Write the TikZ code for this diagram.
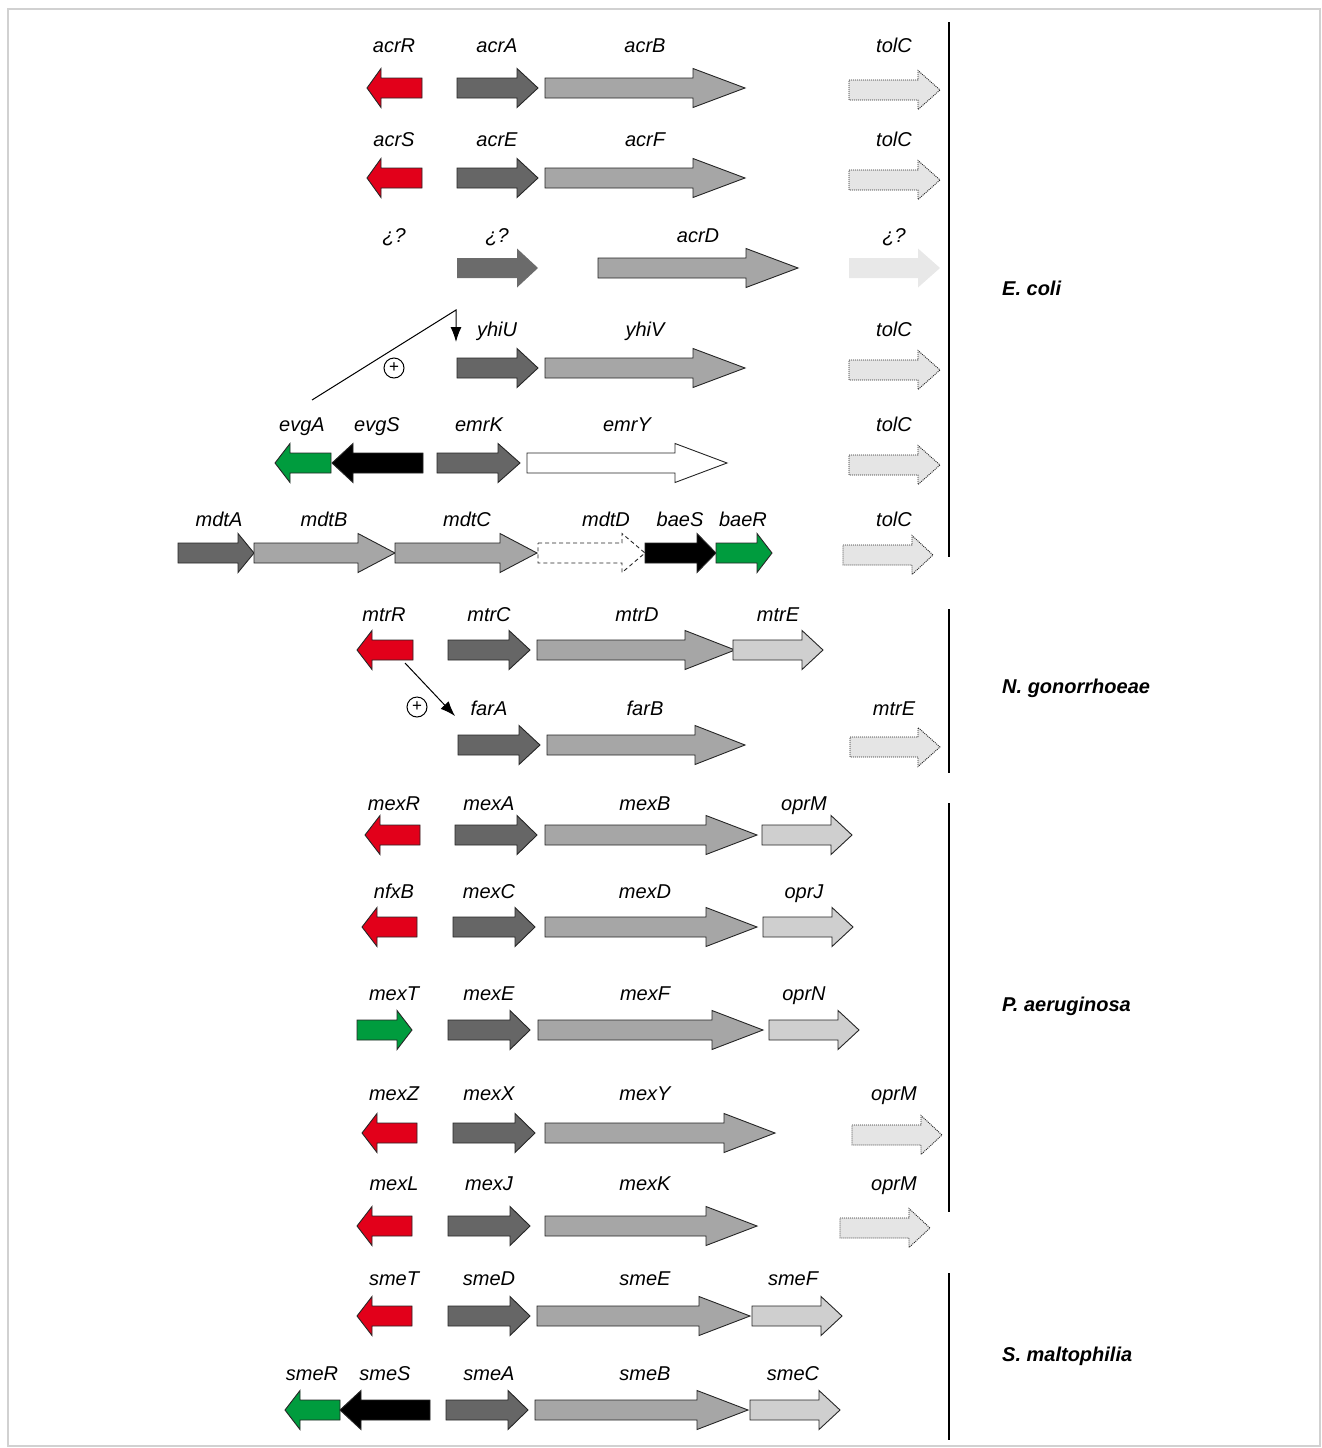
\documentclass[tikz,border=0pt]{standalone}
\usepackage{fontspec}
\setmainfont{Liberation Sans}
\usepackage{tikz}
\usetikzlibrary{arrows.meta}
\definecolor{regred}{RGB}{226,0,26}
\definecolor{reggreen}{RGB}{0,156,62}
\tikzstyle{outl}=[draw=black!85, line width=0.9pt, line join=miter]
\tikzstyle{red}=[outl, fill=regred]
\tikzstyle{grn}=[outl, fill=reggreen]
\tikzstyle{blk}=[outl, fill=black]
\tikzstyle{mfp}=[outl, fill=black!60]
\tikzstyle{rnd}=[outl, fill=black!35]
\tikzstyle{omp}=[outl, fill=black!19]
\tikzstyle{wht}=[outl, fill=white]
\tikzstyle{ompdot}=[draw=black!85, dash pattern=on 1pt off 1pt, line width=0.9pt, fill=black!10]
\tikzstyle{genelabel}=[font=\fontsize{20}{24}\selectfont\itshape, anchor=base, inner sep=0pt]
\tikzstyle{species}=[font=\fontsize{20}{24}\selectfont\bfseries\itshape, anchor=base west, inner sep=0pt]
\tikzstyle{plus}=[circle, draw, line width=1pt, inner sep=0pt, minimum size=20pt, font=\fontsize{17}{17}\selectfont]
\tikzstyle{arrow}=[draw=black, line width=1pt, -{Latex[length=15pt, width=11pt]}]
% gene arrow: style, tail x, head base x, tip x, centre y
\newcommand{\gene}[5]{\path[#1] (#2,#5-10) -- (#3,#5-10) -- (#3,#5-19.5) -- (#4,#5) -- (#3,#5+19.5) -- (#3,#5+10) -- (#2,#5+10) -- cycle;}

\begin{document}
\begin{tikzpicture}[x=1pt, y=-1pt]
	\useasboundingbox (0,0) rectangle (1322,1448);
	\draw[black!18, line width=2pt] (8,9) rectangle (1320,1446);

	% E. coli
	\node[genelabel] (acrR) at (394,52) {acrR};
	\node[genelabel] (acrA) at (497,52) {acrA};
	\node[genelabel] (acrB) at (645,52) {acrB};
	\node[genelabel] (tolC1) at (894,52) {tolC};
	\gene{red}{422}{381}{367}{88}
	\gene{mfp}{457}{517}{538}{88}
	\gene{rnd}{545}{693}{745}{88}
	\gene{ompdot}{849}{918}{940}{90}

	\node[genelabel] (acrS) at (394,146) {acrS};
	\node[genelabel] (acrE) at (497,146) {acrE};
	\node[genelabel] (acrF) at (645,146) {acrF};
	\node[genelabel] (tolC2) at (894,146) {tolC};
	\gene{red}{422}{381}{367}{178}
	\gene{mfp}{457}{517}{538}{178}
	\gene{rnd}{545}{693}{745}{178}
	\gene{ompdot}{849}{918}{940}{180}

	\node[genelabel] (unk1) at (394,242) {¿?};
	\node[genelabel] (unk2) at (497,242) {¿?};
	\node[genelabel] (acrD) at (698,242) {acrD};
	\node[genelabel] (unk3) at (894,242) {¿?};
	\gene{fill=black!58}{457}{517}{538}{268}
	\gene{rnd}{598}{746}{798}{268}
	\gene{fill=black!9}{849}{918}{940}{268}

	\node[genelabel] (yhiU) at (497,336) {yhiU};
	\node[genelabel] (yhiV) at (645,336) {yhiV};
	\node[genelabel] (tolC3) at (894,336) {tolC};
	\gene{mfp}{457}{517}{538}{368}
	\gene{rnd}{545}{693}{745}{368}
	\gene{ompdot}{849}{918}{940}{370}
	\coordinate (evgfrom) at (312,400);
	\coordinate (evgbend) at (456,310);
	\coordinate (evgto) at (456,342);
	\draw[arrow] (evgfrom) -- (evgbend) -- (evgto);
	\node[plus] (plus1) at (394,368) {+};

	\node[genelabel] (evgA) at (302,431) {evgA};
	\node[genelabel] (evgS) at (377,431) {evgS};
	\node[genelabel] (emrK) at (479,431) {emrK};
	\node[genelabel] (emrY) at (627,431) {emrY};
	\node[genelabel] (tolC4) at (894,431) {tolC};
	\gene{grn}{331}{290}{275}{463}
	\gene{blk}{423}{353}{332}{463}
	\gene{mfp}{437}{498}{520}{463}
	\gene{wht}{527}{675}{727}{463}
	\gene{ompdot}{849}{918}{940}{465}

	\node[genelabel] (mdtA) at (219,526) {mdtA};
	\node[genelabel] (mdtB) at (324,526) {mdtB};
	\node[genelabel] (mdtC) at (467,526) {mdtC};
	\node[genelabel] (mdtD) at (606,526) {mdtD};
	\node[genelabel] (baeS) at (680,526) {baeS};
	\node[genelabel] (baeR) at (743,526) {baeR};
	\node[genelabel] (tolC5) at (894,526) {tolC};
	\gene{mfp}{178}{238}{254}{553}
	\gene{rnd}{254}{358}{395}{553}
	\gene{rnd}{395}{500}{537}{553}
	\gene{draw=black!85, line width=0.9pt, dash pattern=on 4pt off 3pt, fill=white}{538}{622}{645}{553}
	\gene{blk}{645}{697}{716}{553}
	\gene{grn}{716}{757}{772}{553}
	\gene{ompdot}{843}{912}{933}{555}

	\draw[line width=1.2pt] (949,22) -- (949,557);
	\node[species] (ecoli) at (1002,295) {E. coli};

	% N. gonorrhoeae
	\node[genelabel] (mtrR) at (384,621) {mtrR};
	\node[genelabel] (mtrC) at (489,621) {mtrC};
	\node[genelabel] (mtrD) at (637,621) {mtrD};
	\node[genelabel] (mtrE1) at (778,621) {mtrE};
	\gene{red}{413}{372}{357}{650}
	\gene{mfp}{448}{509}{530}{650}
	\gene{rnd}{537}{685}{735}{650}
	\gene{omp}{733}{802}{823}{650}

	\node[genelabel] (farA) at (489,715) {farA};
	\node[genelabel] (farB) at (645,715) {farB};
	\node[genelabel] (mtrE2) at (894,715) {mtrE};
	\gene{mfp}{458}{519}{540}{745}
	\gene{rnd}{547}{695}{745}{745}
	\gene{ompdot}{850}{918}{940}{747}
	\coordinate (mtrfrom) at (405,663);
	\coordinate (mtrto) at (455,716);
	\draw[arrow] (mtrfrom) -- (mtrto);
	\node[plus] (plus2) at (417,707) {+};

	\draw[line width=1.2pt] (949,609) -- (949,773);
	\node[species] (ngon) at (1002,693) {N. gonorrhoeae};

	% P. aeruginosa
	\node[genelabel] (mexR) at (394,810) {mexR};
	\node[genelabel] (mexA) at (489,810) {mexA};
	\node[genelabel] (mexB) at (645,810) {mexB};
	\node[genelabel] (oprM1) at (804,810) {oprM};
	\gene{red}{420}{380}{365}{835}
	\gene{mfp}{455}{517}{537}{835}
	\gene{rnd}{545}{706}{757}{835}
	\gene{omp}{762}{831}{852}{835}

	\node[genelabel] (nfxB) at (394,898) {nfxB};
	\node[genelabel] (mexC) at (489,898) {mexC};
	\node[genelabel] (mexD) at (645,898) {mexD};
	\node[genelabel] (oprJ) at (804,898) {oprJ};
	\gene{red}{417}{377}{362}{927}
	\gene{mfp}{453}{515}{535}{927}
	\gene{rnd}{545}{706}{757}{927}
	\gene{omp}{763}{832}{853}{927}

	\node[genelabel] (mexT) at (394,1000) {mexT};
	\node[genelabel] (mexE) at (489,1000) {mexE};
	\node[genelabel] (mexF) at (645,1000) {mexF};
	\node[genelabel] (oprN) at (804,1000) {oprN};
	\gene{grn}{357}{397}{412}{1030}
	\gene{mfp}{448}{510}{530}{1030}
	\gene{rnd}{538}{712}{763}{1030}
	\gene{omp}{769}{838}{859}{1030}

	\node[genelabel] (mexZ) at (394,1100) {mexZ};
	\node[genelabel] (mexX) at (489,1100) {mexX};
	\node[genelabel] (mexY) at (645,1100) {mexY};
	\node[genelabel] (oprM2) at (894,1100) {oprM};
	\gene{red}{417}{377}{362}{1133}
	\gene{mfp}{453}{515}{535}{1133}
	\gene{rnd}{545}{724}{775}{1133}
	\gene{ompdot}{852}{921}{942}{1135}

	\node[genelabel] (mexL) at (394,1190) {mexL};
	\node[genelabel] (mexJ) at (489,1190) {mexJ};
	\node[genelabel] (mexK) at (645,1190) {mexK};
	\node[genelabel] (oprM3) at (894,1190) {oprM};
	\gene{red}{412}{372}{357}{1226}
	\gene{mfp}{448}{510}{530}{1226}
	\gene{rnd}{545}{706}{757}{1226}
	\gene{ompdot}{840}{909}{930}{1228}

	\draw[line width=1.2pt] (949,803) -- (949,1212);
	\node[species] (paer) at (1002,1011) {P. aeruginosa};

	% S. maltophilia
	\node[genelabel] (smeT) at (394,1285) {smeT};
	\node[genelabel] (smeD) at (489,1285) {smeD};
	\node[genelabel] (smeE) at (645,1285) {smeE};
	\node[genelabel] (smeF) at (793,1285) {smeF};
	\gene{red}{412}{372}{357}{1316}
	\gene{mfp}{448}{510}{530}{1316}
	\gene{rnd}{537}{699}{750}{1316}
	\gene{omp}{752}{821}{842}{1316}

	\node[genelabel] (smeR) at (312,1380) {smeR};
	\node[genelabel] (smeS) at (385,1380) {smeS};
	\node[genelabel] (smeA) at (489,1380) {smeA};
	\node[genelabel] (smeB) at (645,1380) {smeB};
	\node[genelabel] (smeC) at (793,1380) {smeC};
	\gene{grn}{340}{300}{285}{1410}
	\gene{blk}{430}{361}{340}{1410}
	\gene{mfp}{446}{508}{528}{1410}
	\gene{rnd}{535}{697}{748}{1410}
	\gene{omp}{750}{819}{840}{1410}

	\draw[line width=1.2pt] (949,1273) -- (949,1440);
	\node[species] (smal) at (1002,1361) {S. maltophilia};
\end{tikzpicture}
\end{document}
